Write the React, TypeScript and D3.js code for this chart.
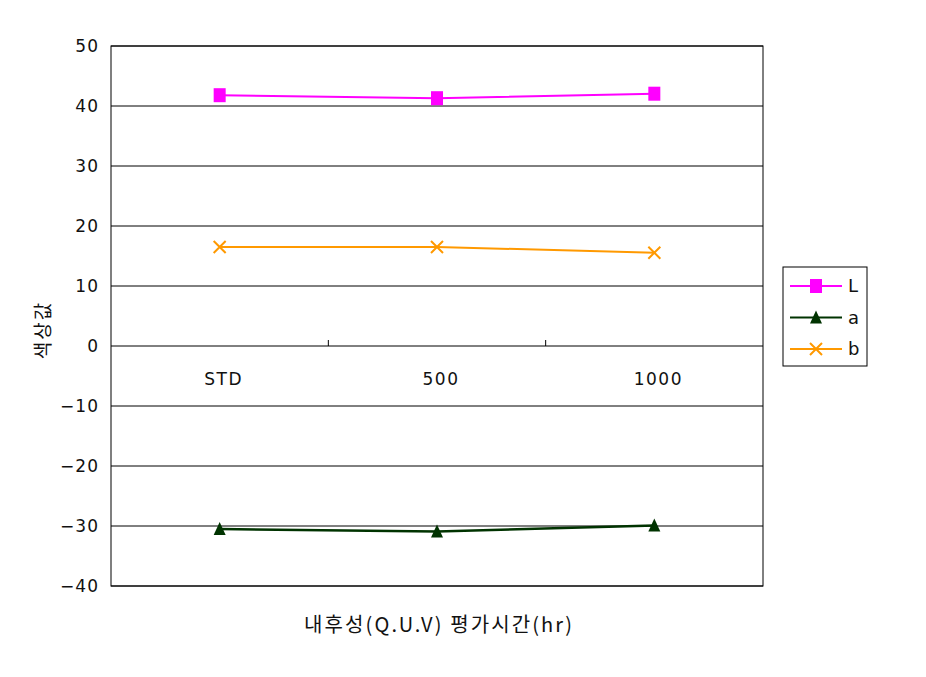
import React from "react";
import * as d3 from "d3";

const categories = ["STD", "500", "1000"];
const seriesNames = ["L", "a", "b"];
const valuesL = [41.8, 41.3, 42.05];
const valuesA = [-30.5, -30.9, -29.9];
const valuesB = [16.5, 16.5, 15.55];
const yTicks = [50, 40, 30, 20, 10, 0, -10, -20, -30, -40];
const colors = ["#FF00FF", "#003300", "#FF9900"];

const W = 926, H = 677;
const left = 111, right = 763, top = 46, bottom = 586;
const latin = "'DejaVu Sans', 'Noto Sans CJK KR', sans-serif";
const kfont = "'Noto Sans CJK KR', 'DejaVu Sans', sans-serif";

function Marker({ kind, x, y, color }: { kind: string; x: number; y: number; color: string }) {
  if (kind === "L") return <rect x={x - 6} y={y - 7} width={12} height={14} fill={color} />;
  if (kind === "a")
    return <path d={`M${x},${y - 7} L${x + 6},${y + 6} L${x - 6},${y + 6} Z`} fill={color} />;
  return (
    <path d={`M${x - 6},${y - 6} L${x + 6},${y + 6} M${x - 6},${y + 6} L${x + 6},${y - 6}`} stroke={color} strokeWidth={2} fill="none" />
  );
}

export default function App() {
  const x = d3.scaleBand().domain(categories).range([left, right]);
  const y = d3.scaleLinear().domain([-40, 50]).range([bottom, top]);
  const data = [valuesL, valuesA, valuesB];
  const line = d3
    .line<number>()
    .x((_, i) => (x(categories[i]) as number) + x.bandwidth() / 2)
    .y((d) => y(d));
  const y0 = y(0);
  return (
    <svg width={W} height={H} style={{ position: "absolute", left: 0, top: 0, background: "#fff" }}>
      <rect x={0} y={0} width={W} height={H} fill="#fff" />
      {yTicks.map((t) => (
        <g key={t}>
          <line x1={left} x2={right} y1={y(t)} y2={y(t)} stroke="#000" strokeWidth={1} />
          <text x={99} y={y(t)} dy="0.36em" textAnchor="end" fontFamily={latin} fontSize={17} letterSpacing={1} fill="#111">
            {t < 0 ? "\u2212" + Math.abs(t) : t}
          </text>
        </g>
      ))}
      <rect x={left} y={top} width={right - left} height={bottom - top} fill="none" stroke="#000" strokeWidth={1} />
      {categories.slice(1).map((c) => (
        <line key={c} x1={x(c)} x2={x(c)} y1={y0} y2={y0 - 6} stroke="#000" />
      ))}
      {categories.map((c) => (
        <text key={c} x={(x(c) as number) + x.bandwidth() / 2 + 4} y={385} textAnchor="middle" fontFamily={latin} fontSize={17} letterSpacing={1.5} fill="#111">
          {c}
        </text>
      ))}
      {data.map((vals, si) => (
        <g key={si}>
          <path d={line(vals) || ""} fill="none" stroke={colors[si]} strokeWidth={si === 1 ? 2.5 : 2} />
          {vals.map((v, i) => (
            <Marker key={i} kind={seriesNames[si]} x={(x(categories[i]) as number) + x.bandwidth() / 2} y={y(v)} color={colors[si]} />
          ))}
        </g>
      ))}
      <rect x={783} y={267} width={84} height={99} fill="#fff" stroke="#000" strokeWidth={1} />
      {seriesNames.map((s, i) => {
        const ly = 286 + i * 31.5;
        return (
          <g key={s}>
            <line x1={790} x2={842} y1={ly} y2={ly} stroke={colors[i]} strokeWidth={2} />
            <Marker kind={s} x={816} y={ly} color={colors[i]} />
            <text x={848} y={ly} dy="0.36em" fontFamily={latin} fontSize={18} fill="#111">
              {s}
            </text>
          </g>
        );
      })}
      <text x={304} y={625} dy="0.36em" fontFamily={kfont} fontSize={20} textLength={268} lengthAdjust="spacing" fill="#111">
        내후성(Q.U.V) 평가시간(hr)
      </text>
      <text transform={`translate(43,${330}) rotate(-90)`} textAnchor="middle" dy="0.36em" fontFamily={kfont} fontSize={19} letterSpacing={2} fill="#111">
        색상값
      </text>
    </svg>
  );
}
